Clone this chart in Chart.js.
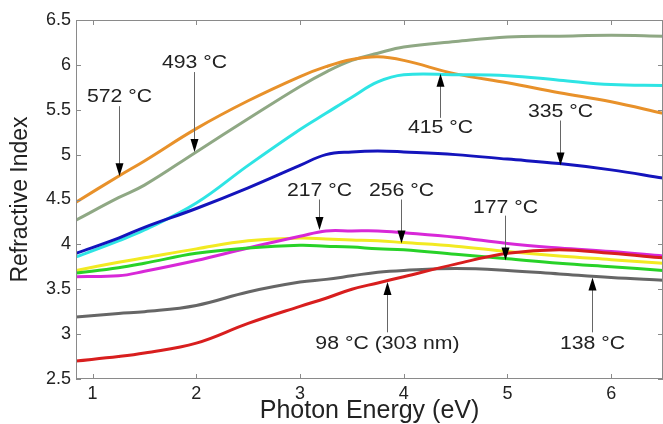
<!DOCTYPE html>
<html>
<head>
<meta charset="utf-8">
<script src="https://cdn.jsdelivr.net/npm/chart.js@4.4.1/dist/chart.umd.min.js"></script>
<style>
  html, body { margin: 0; padding: 0; background: #fff; }
</style>
</head>
<body>
<canvas id="nChart" width="663" height="424"></canvas>
<script>
// Photon energy (eV), shared by all the curves
const energy = [0.84, 1.25, 1.5, 2, 2.5, 3, 3.25, 3.5, 3.75, 4, 4.5, 5, 5.5, 6, 6.5];

// Refractive index, one array per anneal temperature
const n98  = [2.70, 2.75, 2.79, 2.90, 3.12, 3.31, 3.40, 3.50, 3.57, 3.64, 3.78, 3.90, 3.94, 3.90, 3.85];
const n138 = [3.19, 3.23, 3.25, 3.32, 3.47, 3.58, 3.61, 3.65, 3.69, 3.71, 3.73, 3.71, 3.67, 3.63, 3.60];
const n177 = [3.68, 3.74, 3.79, 3.90, 3.96, 3.99, 3.98, 3.97, 3.95, 3.94, 3.89, 3.84, 3.79, 3.75, 3.71];
const n217 = [3.64, 3.65, 3.70, 3.82, 3.96, 4.09, 4.15, 4.15, 4.15, 4.13, 4.08, 4.01, 3.96, 3.92, 3.87];
const n256 = [3.71, 3.80, 3.85, 3.95, 4.04, 4.07, 4.06, 4.05, 4.04, 4.02, 3.98, 3.92, 3.87, 3.83, 3.79];
const n335 = [3.90, 4.07, 4.19, 4.40, 4.63, 4.88, 5.00, 5.03, 5.04, 5.03, 5.00, 4.95, 4.90, 4.83, 4.74];
const n415 = [3.86, 4.04, 4.16, 4.46, 4.88, 5.28, 5.46, 5.64, 5.81, 5.89, 5.89, 5.88, 5.83, 5.78, 5.77];
const n493 = [4.27, 4.52, 4.66, 5.03, 5.40, 5.76, 5.92, 6.05, 6.13, 6.20, 6.26, 6.31, 6.32, 6.33, 6.32];
const n572 = [4.47, 4.76, 4.93, 5.29, 5.60, 5.87, 5.98, 6.06, 6.09, 6.05, 5.90, 5.80, 5.69, 5.59, 5.46];

const xTicks = [1, 2, 3, 4, 5, 6];
const yTicks = [2.5, 3, 3.5, 4, 4.5, 5, 5.5, 6, 6.5];

// arrow labels: x, text centre, arrow start and tip (data units)
const notes = [
  { text: '572 °C', x: 1.25, ty: 5.64, from: 5.54, to: 4.76 },
  { text: '493 °C', x: 1.98, ty: 6.02, from: 5.92, to: 5.03 },
  { text: '415 °C', x: 4.35, ty: 5.30, from: 5.41, to: 5.90 },
  { text: '335 °C', x: 5.51, ty: 5.47, from: 5.38, to: 4.88 },
  { text: '217 °C', x: 3.18, ty: 4.59, from: 4.50, to: 4.16 },
  { text: '256 °C', x: 3.97, ty: 4.59, from: 4.50, to: 4.01 },
  { text: '177 °C', x: 4.98, ty: 4.41, from: 4.32, to: 3.82 },
  { text: '98 °C (303 nm)', x: 3.84, ty: 2.89, from: 3.02, to: 3.58 },
  { text: '138 °C', x: 5.82, ty: 2.89, from: 3.02, to: 3.63 }
];

function pts(arr) {
  return energy.map((e, i) => ({ x: e, y: arr[i] }));
}

function curve(arr, color) {
  return {
    data: pts(arr),
    borderColor: color,
    borderWidth: 3,
    pointRadius: 0,
    tension: 0.4,
    fill: false
  };
}

// frame, inward ticks and the arrow annotations
const framePlugin = {
  id: 'frame',
  afterDatasetsDraw(chart) {
    const { ctx, chartArea: a, scales: { x, y } } = chart;
    ctx.save();
    ctx.strokeStyle = '#8a8a8a';
    ctx.lineWidth = 1;
    ctx.strokeRect(a.left + 0.5, a.top + 0.5, a.right - a.left - 1, a.bottom - a.top - 1);
    ctx.beginPath();
    xTicks.forEach(v => {
      const p = Math.round(x.getPixelForValue(v)) + 0.5;
      ctx.moveTo(p, a.bottom); ctx.lineTo(p, a.bottom - 5);
      ctx.moveTo(p, a.top); ctx.lineTo(p, a.top + 5);
    });
    yTicks.forEach(v => {
      const p = Math.round(y.getPixelForValue(v)) + 0.5;
      ctx.moveTo(a.left, p); ctx.lineTo(a.left + 5, p);
      ctx.moveTo(a.right, p); ctx.lineTo(a.right - 5, p);
    });
    ctx.stroke();

    notes.forEach(n => {
      const px = Math.round(x.getPixelForValue(n.x)) + 0.5;
      const y1 = y.getPixelForValue(n.from);
      const y2 = y.getPixelForValue(n.to);
      const dir = y2 > y1 ? 1 : -1;
      ctx.strokeStyle = '#666';
      ctx.beginPath();
      ctx.moveTo(px, y1);
      ctx.lineTo(px, y2 - dir * 12);
      ctx.stroke();
      ctx.fillStyle = '#000';
      ctx.beginPath();
      ctx.moveTo(px, y2);
      ctx.lineTo(px - 4, y2 - dir * 13);
      ctx.lineTo(px + 4, y2 - dir * 13);
      ctx.closePath();
      ctx.fill();

      ctx.save();
      ctx.translate(px, y.getPixelForValue(n.ty));
      ctx.scale(1.18, 1);
      ctx.font = '18px "Liberation Sans", Arial, sans-serif';
      ctx.fillStyle = '#222';
      ctx.textAlign = 'center';
      ctx.textBaseline = 'middle';
      ctx.fillText(n.text, 0, 0);
      ctx.restore();
    });
    ctx.restore();
  }
};

const tickFont = { family: '"Liberation Sans", Arial, sans-serif', size: 18 };

new Chart(document.getElementById('nChart').getContext('2d'), {
  type: 'line',
  data: {
    datasets: [
      curve(n98, '#d81e1e'),
      curve(n138, '#666666'),
      curve(n177, '#28d228'),
      curve(n217, '#d828d8'),
      curve(n256, '#f2ea22'),
      curve(n335, '#1414bc'),
      curve(n415, '#2ee4e4'),
      curve(n572, '#e8912a'),
      curve(n493, '#8fa884')
    ]
  },
  options: {
    responsive: false,
    animation: false,
    layout: { padding: { top: 20, right: 0, left: 0, bottom: 0 } },
    plugins: {
      legend: { display: false },
      tooltip: { enabled: false }
    },
    scales: {
      x: {
        type: 'linear',
        min: 0.84,
        max: 6.5,
        afterBuildTicks: s => { s.ticks = xTicks.map(v => ({ value: v })); },
        afterFit: s => { s.height = 45; },
        grid: { display: false, drawTicks: false },
        border: { display: false },
        ticks: { font: tickFont, color: '#222', padding: 4, maxRotation: 0, callback: v => String(v) },
        title: {
          display: true,
          text: 'Photon Energy (eV)',
          color: '#222',
          font: { family: '"Liberation Sans", Arial, sans-serif', size: 25, lineHeight: 1 },
          padding: { top: 0, bottom: 0 }
        }
      },
      y: {
        min: 2.5,
        max: 6.5,
        afterBuildTicks: s => { s.ticks = yTicks.map(v => ({ value: v })); },
        afterFit: s => { s.width = 76; },
        grid: { display: false, drawTicks: false },
        border: { display: false },
        ticks: { font: tickFont, color: '#222', padding: 5, callback: v => String(v) },
        title: {
          display: true,
          text: 'Refractive Index',
          color: '#222',
          font: { family: '"Liberation Sans", Arial, sans-serif', size: 23, lineHeight: 1 },
          padding: { top: 9, bottom: 0 }
        }
      }
    }
  },
  plugins: [framePlugin]
});
</script>
</body>
</html>
